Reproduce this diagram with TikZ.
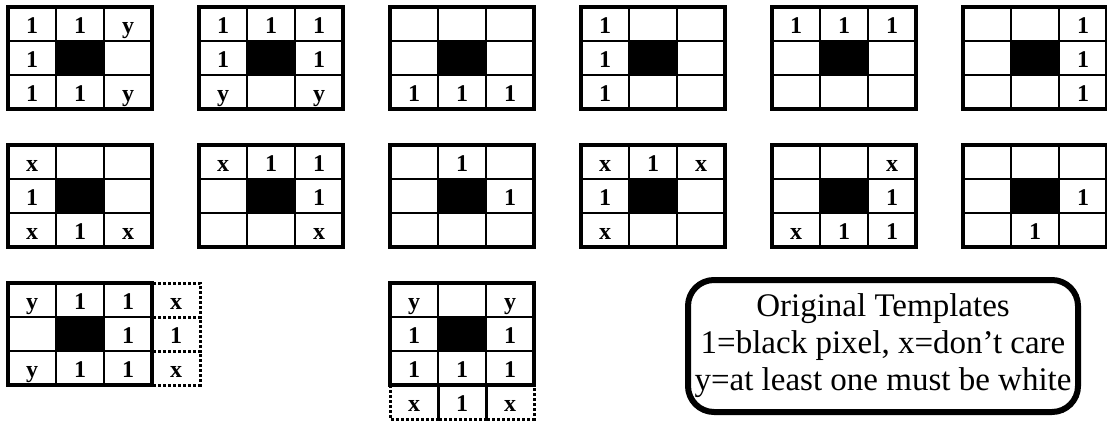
\documentclass[tikz,border=0pt]{standalone}
\usepackage{fontspec}
\setmainfont{Liberation Serif}
\usepackage{tikz}
\usetikzlibrary{positioning}

\tikzset{
  gridline/.style={line width=1pt},
  gridframe/.style={line width=2pt},
  cellnum/.style={font=\fontsize{12}{14}\selectfont\bfseries, inner sep=0pt, anchor=base},
  extracell/.style={line width=1.5pt, densely dotted},
  legendbox/.style={draw, line width=3pt, rounded corners=13pt, inner sep=0pt,
    minimum width=195pt, minimum height=66pt, align=center,
    font=\fontsize{16.5}{18.5}\selectfont},
}

% one 3x3 template: name, left, top, nine labels (row by row)
\newcommand{\tgrid}[4]{%
  \begin{scope}[shift={(#2,#3)}]
    \fill[black] (48,34) rectangle (96,68);
    \draw[gridline] (48,0) -- (48,102) (96,0) -- (96,102)
                    (0,34) -- (144,34) (0,68) -- (144,68);
    \draw[gridframe] (0,0) rectangle (144,102);
    \foreach \lab [count=\k from 0] in {#4} {
      \pgfmathtruncatemacro{\cc}{mod(\k,3)}
      \pgfmathtruncatemacro{\rr}{int(\k/3)}
      \node[cellnum] (#1-\k) at (24+48*\cc, 26+34*\rr) {\lab};
    }
  \end{scope}}

\begin{document}
\begin{tikzpicture}[x=0.5pt, y=-0.5pt]
  \useasboundingbox (0,0) rectangle (1107,423);

  % --- Row 1 ---
  \tgrid{ra}{8}{7}{1,1,y,1,{},{},1,1,y}
  \tgrid{rb}{199}{7}{1,1,1,1,{},1,y,{},y}
  \tgrid{rc}{390}{7}{{},{},{},{},{},{},1,1,1}
  \tgrid{rd}{581}{7}{1,{},{},1,{},{},1,{},{}}
  \tgrid{re}{772}{7}{1,1,1,{},{},{},{},{},{}}
  \tgrid{rf}{963}{7}{{},{},1,{},{},1,{},{},1}

  % --- Row 2 ---
  \tgrid{sa}{8}{145}{x,{},{},1,{},{},x,1,x}
  \tgrid{sb}{199}{145}{x,1,1,{},{},1,{},{},x}
  \tgrid{sc}{390}{145}{{},1,{},{},{},1,{},{},{}}
  \tgrid{sd}{581}{145}{x,1,x,1,{},{},x,{},{}}
  \tgrid{se}{772}{145}{{},{},x,{},{},1,x,1,1}
  \tgrid{sf}{963}{145}{{},{},{},{},{},1,{},1,{}}

  % --- Row 3: templates with an extra (dotted) column / row ---
  \foreach \lab [count=\k from 0] in {x,1,x} {
    \draw[extracell] (152,283+34*\k) rectangle (200,317+34*\k);
    \node[cellnum] (ta-x\k) at (176,309+34*\k) {\lab};
  }
  \tgrid{ta}{8}{283}{y,1,1,{},{},1,y,1,1}

  \foreach \lab [count=\k from 0] in {x,1,x} {
    \draw[extracell] (390+48*\k,385) rectangle (438+48*\k,419);
    \node[cellnum] (tb-x\k) at (414+48*\k,411) {\lab};
  }
  \tgrid{tb}{390}{283}{y,{},y,1,{},1,1,1,1}

  % --- Legend ---
  \node[legendbox] (legend) at (883,346)
    {Original Templates\\ 1=black pixel, x=don't care\\ y=at least one must be white};
\end{tikzpicture}
\end{document}
